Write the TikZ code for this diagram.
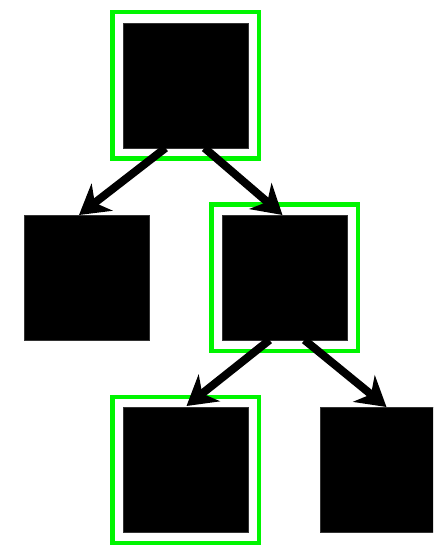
\documentclass[tikz,border=0pt]{standalone}
\usetikzlibrary{arrows.meta,calc}
\definecolor{frameGreen}{RGB}{0,245,0}
\tikzset{
  blackbox/.style={rectangle, fill=black, draw=black!80, line width=0.5pt, minimum size=125pt, inner sep=0pt, outer sep=0pt},
  greenframe/.style={rectangle, draw=frameGreen, line width=4.5pt, minimum size=146.5pt, inner sep=0pt, outer sep=0pt},
  edgearrow/.style={draw=black, line width=8pt, -{Stealth[length=29pt, width=34pt, inset=9pt]}}
}
\begin{document}
\begin{tikzpicture}[x=1pt, y=-1pt]
\useasboundingbox (0,0) rectangle (433,545);
\clip (0,0) rectangle (433,545);
% frames
\node[greenframe] (fa) at (185.5,85.5) {};
\node[greenframe] (fc) at (284.5,277.5) {};
\node[greenframe] (fd) at (185.75,470) {};
% boxes
\node[blackbox] (a) at (185.5,85.5) {};
\node[blackbox] (b) at (87,277.5) {};
\node[blackbox] (c) at (284.5,277.5) {};
\node[blackbox] (d) at (185.5,469.5) {};
\node[blackbox] (e) at (382.5,469.5) {};
% edges
\draw[edgearrow] ($(a.south)+(-20,0)$) -- ($(b.north)+(-8,0)$);
\draw[edgearrow] ($(a.south)+(19,0)$) -- ($(c.north)+(-2,0)$);
\draw[edgearrow] ($(c.south)+(-15,0)$) -- ($(d.north)+(1,-1)$);
\draw[edgearrow] ($(c.south)+(20,0)$) -- ($(e.north)+(4,0)$);
\end{tikzpicture}
\end{document}
